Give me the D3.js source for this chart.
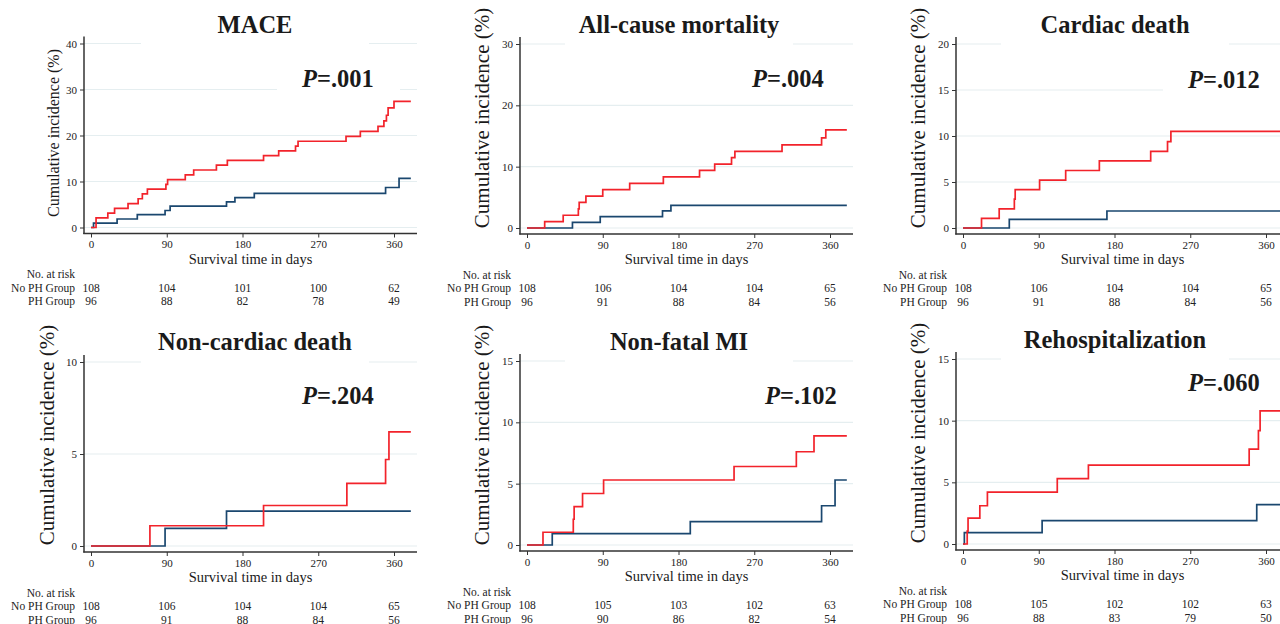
<!DOCTYPE html>
<html>
<head>
<meta charset="utf-8">
<script src="https://cdn.jsdelivr.net/npm/d3@7"></script>
<style>
  body { margin: 0; background: #fff; }
  text { font-family: "Liberation Serif", "Times New Roman", serif; }
</style>
</head>
<body>
<svg width="1280" height="624"></svg>
<script>
var svg = d3.select("svg");

// --- data ---
var titles = ["MACE", "All-cause mortality", "Cardiac death", "Non-cardiac death", "Non-fatal MI", "Rehospitalization"];
var pValues = [".001", ".004", ".012", ".204", ".102", ".060"];
var yMax = [40, 30, 20, 10, 15, 15];
var yStep = [10, 10, 5, 5, 5, 5];
var dayTicks = [0, 90, 180, 270, 360];
var groups = ["No PH Group", "PH Group"];
var lastDay = 380;

// step curves: [day, cumulative incidence %]
var maceNoPH = [[0,0],[3,0.93],[31,1.85],[55,2.78],[88,3.7],[94,4.63],[161,5.56],[171,6.48],[194,7.41],[350,8.7],[366,10.7]];
var macePH = [[0,0],[6,2.08],[20,3.13],[28,4.17],[44,5.21],[56,6.25],[61,7.29],[67,8.33],[89,9.38],[91,10.42],[112,11.46],[122,12.5],[149,13.54],[162,14.58],[205,15.63],[223,16.67],[243,17.71],[246,18.75],[303,19.8],[320,20.9],[341,22.0],[348,23.2],[351,24.4],[353,26.0],[360,27.4]];
var allNoPH = [[0,0],[54,0.93],[87,1.85],[161,2.78],[171,3.7]];
var allPH = [[0,0],[21,1.04],[43,2.08],[61,3.13],[62,4.17],[70,5.21],[90,6.25],[122,7.29],[162,8.33],[205,9.38],[223,10.42],[243,11.46],[247,12.5],[303,13.54],[350,14.7],[355,16.0]];
var cardNoPH = [[0,0],[55,0.93],[171,1.85]];
var cardPH = [[0,0],[22,1.04],[43,2.08],[61,3.13],[62,4.17],[91,5.21],[122,6.25],[162,7.29],[223,8.33],[243,9.38],[247,10.5]];
var noncardNoPH = [[0,0],[88,0.96],[161,1.9]];
var noncardPH = [[0,0],[70,1.1],[205,2.2],[304,3.4],[350,4.7],[354,6.2]];
var miNoPH = [[0,0],[30,0.93],[194,1.9],[350,3.2],[366,5.3]];
var miPH = [[0,0],[19,1.04],[55,2.1],[56,3.13],[66,4.2],[91,5.3],[246,6.4],[320,7.6],[341,8.9]];
var rehospNoPH = [[0,0],[1.6,0.93],[94,1.9],[349,3.2]];
var rehospPH = [[0,0],[5,1.04],[6,2.1],[20,3.1],[29,4.2],[112,5.3],[149,6.4],[340,7.7],[351,9.2],[353,10.8]];

var curvesNoPH = [maceNoPH, allNoPH, cardNoPH, noncardNoPH, miNoPH, rehospNoPH];
var curvesPH = [macePH, allPH, cardPH, noncardPH, miPH, rehospPH];

// numbers at risk at 0, 90, 180, 270, 360 days
var riskNoPH = [
  [108, 104, 101, 100, 62],
  [108, 106, 104, 104, 65],
  [108, 106, 104, 104, 65],
  [108, 106, 104, 104, 65],
  [108, 105, 103, 102, 63],
  [108, 105, 102, 102, 63]
];
var riskPH = [
  [96, 88, 82, 78, 49],
  [96, 91, 88, 84, 56],
  [96, 91, 88, 84, 56],
  [96, 91, 88, 84, 56],
  [96, 90, 86, 82, 54],
  [96, 88, 83, 79, 50]
];

// --- layout of the 6 panels ---
var layout = [
  {ax: 84,  y0: 227.5, yTop: 43.5, titleY: 33,  pX: 302,  pY: 87,  labX: 59,  labY: 133, labSize: 16},
  {ax: 520, y0: 228,   yTop: 44,   titleY: 33,  pX: 752,  pY: 87,  labX: 489, labY: 118, labSize: 21},
  {ax: 956, y0: 228,   yTop: 44,   titleY: 33,  pX: 1188, pY: 88,  labX: 925, labY: 118, labSize: 21},
  {ax: 84,  y0: 546,   yTop: 362,  titleY: 350, pX: 302,  pY: 404, labX: 54,  labY: 435, labSize: 21},
  {ax: 520, y0: 545,   yTop: 361,  titleY: 350, pX: 765,  pY: 404, labX: 489, labY: 435, labSize: 21},
  {ax: 956, y0: 544,   yTop: 359,  titleY: 348, pX: 1188, pY: 391, labX: 925, labY: 433, labSize: 21}
];
var titleCx = [255, 679, 1115];

var red = "#f2232b";
var blue = "#1a476f";
var axisColor = "#333";

layout.forEach(function(p, i) {
  var xScale = d3.scaleLinear().domain([0, 360]).range([p.ax + 7, p.ax + 310]);
  var yScale = d3.scaleLinear().domain([0, yMax[i]]).range([p.y0, p.yTop]);
  var yTicks = d3.range(0, yMax[i] + 0.001, yStep[i]);
  var g = svg.append("g");
  var cx = titleCx[i % 3];

  // gridlines
  g.selectAll("line.grid").data(yTicks).join("line")
    .attr("x1", p.ax).attr("x2", p.ax + 333)
    .attr("y1", function(d) { return yScale(d); })
    .attr("y2", function(d) { return yScale(d); })
    .attr("stroke", "#e5eef0")
    .attr("stroke-width", 1.2);

  // white boxes behind title and p-value
  g.append("rect").attr("x", cx - 114).attr("y", p.titleY - 26).attr("width", 228).attr("height", 42).attr("fill", "#fff");
  g.append("rect").attr("x", p.pX - 25).attr("y", p.pY - 28).attr("width", 123).attr("height", 33).attr("fill", "#fff");

  g.append("text")
    .attr("x", cx).attr("y", p.titleY)
    .attr("text-anchor", "middle")
    .style("font-size", "24.5px").style("font-weight", "bold").style("fill", "#1a1a1a")
    .text(titles[i]);

  var pt = g.append("text")
    .attr("x", p.pX).attr("y", p.pY)
    .style("font-size", "24.5px").style("font-weight", "bold").style("fill", "#1a1a1a");
  pt.append("tspan").style("font-style", "italic").text("P");
  pt.append("tspan").text("=" + pValues[i]);

  // step curves
  var line = d3.line()
    .x(function(d) { return xScale(d[0]); })
    .y(function(d) { return yScale(d[1]); })
    .curve(d3.curveStepAfter);

  [[curvesNoPH[i], blue], [curvesPH[i], red]].forEach(function(c) {
    var pts = c[0].concat([[lastDay, c[0][c[0].length - 1][1]]]);
    g.append("path")
      .attr("d", line(pts))
      .attr("fill", "none")
      .attr("stroke", c[1])
      .attr("stroke-width", 1.7);
  });

  // axes
  g.append("line").attr("x1", p.ax).attr("x2", p.ax)
    .attr("y1", p.yTop - 7).attr("y2", p.y0 + 6.5)
    .attr("stroke", axisColor).attr("stroke-width", 1.5);
  g.append("line").attr("x1", p.ax - 0.75).attr("x2", p.ax + 333)
    .attr("y1", p.y0 + 6).attr("y2", p.y0 + 6)
    .attr("stroke", axisColor).attr("stroke-width", 1.5);

  var axisLeft = d3.axisLeft(yScale).tickValues(yTicks).tickSize(4).tickPadding(3);
  var yAxis = g.append("g").attr("transform", "translate(" + p.ax + ",0)").call(axisLeft);
  var axisBottom = d3.axisBottom(xScale).tickValues(dayTicks).tickSize(4).tickPadding(3);
  var xAxis = g.append("g").attr("transform", "translate(0," + (p.y0 + 6) + ")").call(axisBottom);
  [yAxis, xAxis].forEach(function(a) {
    a.select(".domain").remove();
    a.selectAll("line").attr("stroke", axisColor).attr("stroke-width", 1);
    a.selectAll("text").style("font-family", "Liberation Serif, serif").style("font-size", "11px").attr("fill", "#222");
  });

  // axis titles
  g.append("text")
    .attr("transform", "translate(" + p.labX + "," + p.labY + ") rotate(-90)")
    .attr("text-anchor", "middle")
    .style("font-size", p.labSize + "px").style("fill", "#1a1a1a")
    .text("Cumulative incidence (%)");

  g.append("text")
    .attr("x", xScale(180) + 8).attr("y", p.y0 + 36)
    .attr("text-anchor", "middle")
    .style("font-size", "14.5px").style("fill", "#1a1a1a")
    .text("Survival time in days");

  // number at risk table
  var tab = [["No. at risk", null], [groups[0], riskNoPH[i]], [groups[1], riskPH[i]]];
  var rowY = [p.y0 + 50.5, p.y0 + 64, p.y0 + 77.5];
  tab.forEach(function(row, r) {
    g.append("text")
      .attr("x", p.ax - 9).attr("y", rowY[r])
      .attr("text-anchor", "end")
      .style("font-size", "11.5px").style("fill", "#222")
      .text(row[0]);
    if (row[1]) {
      g.selectAll("text.n" + r).data(row[1]).join("text")
        .attr("x", function(d, k) { return xScale(dayTicks[k]); })
        .attr("y", rowY[r])
        .attr("text-anchor", "middle")
        .style("font-size", "11.5px").style("fill", "#222")
        .text(function(d) { return d; });
    }
  });
});
</script>
</body>
</html>
